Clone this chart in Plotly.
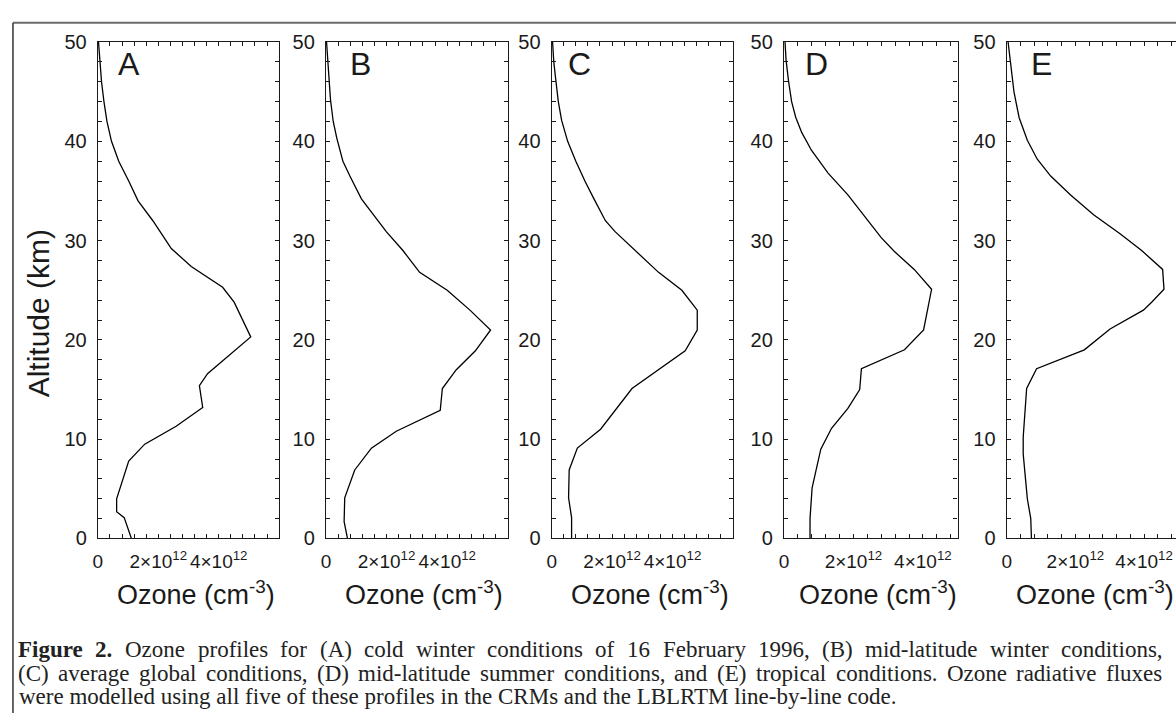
import plotly.graph_objects as go

# ---------------- data (ozone in units of 1e12 cm^-3, altitude in km) ----------------
panel_labels = ["A", "B", "C", "D", "E"]

alt_A = [50, 48, 46, 44, 42, 40, 38, 36, 34, 32, 30, 29.2, 27.4, 25.3, 23.8, 20.3,
         16.6, 15.4, 13.2, 11.3, 9.5, 8.5, 7.8, 4.0, 2.7, 2.1, 0]
oz_A = [0.02, 0.07, 0.12, 0.20, 0.30, 0.45, 0.69, 1.02, 1.33, 1.82, 2.24, 2.43, 3.09,
        4.13, 4.51, 5.06, 3.63, 3.36, 3.47, 2.59, 1.55, 1.22, 1.02, 0.62, 0.62, 0.87, 1.11]

alt_B = [50, 48, 46, 44.2, 42, 40.3, 38, 36.5, 34.2, 30.9, 29, 26.8, 25, 23, 21, 18.9,
         17, 15.1, 12.9, 10.8, 9.1, 6.9, 4.1, 1.7, 0]
oz_B = [0.02, 0.06, 0.10, 0.15, 0.24, 0.36, 0.56, 0.79, 1.17, 1.99, 2.54, 3.09, 4.0,
        4.75, 5.43, 4.93, 4.30, 3.84, 3.77, 2.32, 1.50, 0.95, 0.62, 0.60, 0.71]

alt_C = [50, 48, 46.1, 44, 42.1, 40, 38, 36, 34.2, 32, 30.9, 28.8, 26.8, 25, 23, 21,
         18.9, 15.1, 11, 9.1, 6.9, 4.1, 2.1, 0]
oz_C = [0.03, 0.07, 0.14, 0.22, 0.33, 0.53, 0.80, 1.10, 1.40, 1.78, 2.10, 2.83, 3.54,
        4.31, 4.82, 4.82, 4.42, 2.66, 1.62, 0.85, 0.58, 0.56, 0.66, 0.66]

alt_D = [50, 48.2, 46.1, 44, 42.4, 40.9, 39.1, 36.8, 34.6, 32, 30.3, 28.9, 27.1, 25.1,
         23.8, 21, 19, 17.1, 15, 13.1, 11.1, 9, 5.1, 2, 0]
oz_D = [0.03, 0.06, 0.13, 0.22, 0.34, 0.51, 0.79, 1.27, 1.84, 2.42, 2.80, 3.18, 3.75,
        4.25, 4.18, 4.02, 3.47, 2.23, 2.18, 1.84, 1.37, 1.06, 0.81, 0.75, 0.75]

alt_E = [50, 48.2, 45, 42.4, 40.1, 38.2, 36.5, 34.6, 32.6, 30.7, 29, 27.1, 25.1, 23.8,
         23, 21.1, 19, 17.1, 15.1, 10.2, 8.5, 5.9, 4, 2, 0]
oz_E = [0.04, 0.10, 0.21, 0.36, 0.60, 0.89, 1.28, 1.86, 2.53, 3.30, 3.93, 4.54, 4.58,
        4.22, 3.98, 3.01, 2.26, 0.87, 0.58, 0.48, 0.48, 0.55, 0.60, 0.70, 0.72]

x_tickvals = [0, 2, 4]
x_ticktext = ["0", "2\u00d710<sup>12</sup>", "4\u00d710<sup>12</sup>"]
y_tickvals = [0, 10, 20, 30, 40, 50]

caption_lines = [
    "Figure 2. Ozone profiles for (A) cold winter conditions of 16 February 1996, (B) mid-latitude winter conditions,",
    "(C) average global conditions, (D) mid-latitude summer conditions, and (E) tropical conditions. Ozone radiative fluxes",
    "were modelled using all five of these profiles in the CRMs and the LBLRTM line-by-line code.",
]
caption_bold_words = 2          # "Figure 2." is bold
caption_justified = [True, True, False]

profiles = [(alt_A, oz_A), (alt_B, oz_B), (alt_C, oz_C), (alt_D, oz_D), (alt_E, oz_E)]

# ---------------- layout geometry (pixels) ----------------
W, H = 1176, 724
def px(x):
    return x / W
def py(y):
    return 1 - y / H

panel_px = [(93.3, 275.3), (322.3, 505), (549, 731), (782.3, 956.7), (1006, 1176)]
x_max = [6, 6, 6, 5, 4.93]
letter_x = [125, 357, 577, 815, 1041]
title_x = [192, 421, 648, 877, 1095]
plot_top, plot_bot = 32, 544

SANS = "Liberation Sans, Arial, sans-serif"
SERIF = "Liberation Serif, Times New Roman, serif"
AX = "#1a1a1a"

# Times (Liberation Serif is metric compatible) advance widths, per 1000 em
TIMES = {' ': 250, '(': 333, ')': 333, ',': 250, '.': 250, '-': 333,
         'A': 722, 'B': 667, 'C': 667, 'D': 722, 'E': 611, 'F': 556, 'L': 611,
         'M': 889, 'O': 722, 'R': 667, 'T': 611,
         'a': 444, 'b': 500, 'c': 444, 'd': 500, 'e': 444, 'f': 333, 'g': 500,
         'h': 500, 'i': 278, 'j': 278, 'k': 500, 'l': 278, 'm': 778, 'n': 500,
         'o': 500, 'p': 500, 'q': 500, 'r': 333, 's': 389, 't': 278, 'u': 500,
         'v': 500, 'w': 722, 'x': 500, 'y': 500, 'z': 444}
TIMES_BOLD = {'F': 611, 'i': 278, 'g': 500, 'u': 556, 'r': 444, 'e': 444,
              '.': 250, ' ': 250}

def text_w(s, size, bold=False):
    tot = 0
    for ch in s:
        if ch.isdigit():
            tot += 500
        elif bold and ch in TIMES_BOLD:
            tot += TIMES_BOLD[ch]
        else:
            tot += TIMES.get(ch, 500)
    return tot * size / 1000.0

fig = go.Figure()
layout = dict(
    width=W, height=H, margin=dict(l=0, r=0, t=0, b=0),
    paper_bgcolor="white", plot_bgcolor="white", showlegend=False,
)

annotations = []
for i, (alts, vals) in enumerate(profiles):
    n = "" if i == 0 else str(i + 1)
    fig.add_trace(go.Scatter(
        x=vals, y=alts, mode="lines", line=dict(color="black", width=1.3),
        xaxis="x" + n, yaxis="y" + n, hoverinfo="skip"))
    l, r = panel_px[i]
    layout["xaxis" + n] = dict(
        domain=[px(l), px(r)], range=[0, x_max[i]], anchor="y" + n,
        showline=True, linecolor=AX, linewidth=1.3, mirror="ticks",
        ticks="inside", ticklen=4, tickwidth=1, tickcolor=AX,
        tickmode="array", tickvals=x_tickvals, ticktext=x_ticktext, tickangle=0,
        minor=dict(ticks="inside", ticklen=4, tickwidth=1, tickcolor=AX,
                   tickmode="linear", tick0=0, dtick=0.4, showgrid=False),
        showgrid=False, zeroline=False, ticklabelstandoff=6,
        tickfont=dict(family=SANS, size=19, color=AX), fixedrange=True)
    layout["yaxis" + n] = dict(
        domain=[py(plot_bot), py(plot_top)], range=[0, 50], anchor="x" + n,
        showline=True, linecolor=AX, linewidth=1.3,
        mirror=("ticks" if i < 4 else False),
        ticks="inside", ticklen=4, tickwidth=1, tickcolor=AX,
        tickmode="array", tickvals=y_tickvals,
        minor=dict(ticks="inside", ticklen=4, tickwidth=1, tickcolor=AX,
                   tickmode="linear", tick0=0, dtick=2, showgrid=False),
        showgrid=False, zeroline=False, ticklabelstandoff=6,
        tickfont=dict(family=SANS, size=20, color=AX), fixedrange=True)
    annotations.append(dict(
        text=panel_labels[i], x=px(letter_x[i]), y=py(55), xref="paper", yref="paper",
        xanchor="center", yanchor="middle", showarrow=False,
        font=dict(family=SANS, size=32, color=AX)))
    annotations.append(dict(
        text="Ozone (cm<sup>-3</sup>)", x=px(title_x[i]), y=py(600),
        xref="paper", yref="paper", xanchor="center", yanchor="middle",
        showarrow=False, font=dict(family=SANS, size=27, color=AX)))

annotations.append(dict(
    text="Altitude (km)", x=px(34), y=py(312), xref="paper", yref="paper",
    xanchor="center", yanchor="middle", textangle=-90, showarrow=False,
    font=dict(family=SANS, size=30, color=AX)))

# caption, lines 1-2 justified word by word
CAP_SIZE = 23
CAP_FONT = dict(family=SERIF, size=CAP_SIZE, color="#222")
cap_left, cap_right = 12, 1161
cap_y = [659, 683.5, 707]
for li, (line, yy) in enumerate(zip(caption_lines, cap_y)):
    if not caption_justified[li]:
        annotations.append(dict(text=line, x=px(cap_left), y=py(yy), xref="paper",
                                yref="paper", xanchor="left", yanchor="middle",
                                showarrow=False, font=CAP_FONT))
        continue
    words = line.split(" ")
    bold = [li == 0 and k < caption_bold_words for k in range(len(words))]
    widths = [text_w(w, CAP_SIZE, b) for w, b in zip(words, bold)]
    gap = (cap_right - cap_left - sum(widths)) / (len(words) - 1)
    xpos = cap_left
    for w, wd, b in zip(words, widths, bold):
        annotations.append(dict(text=("<b>%s</b>" % w) if b else w, x=px(xpos), y=py(yy),
                                xref="paper", yref="paper", xanchor="left",
                                yanchor="middle", showarrow=False, borderpad=0,
                                font=CAP_FONT))
        xpos += wd + gap

layout["annotations"] = annotations
layout["shapes"] = [
    dict(type="line", xref="paper", yref="paper", x0=px(8), x1=1, y0=py(12), y1=py(12),
         line=dict(color="#6a6a6a", width=2)),
    dict(type="line", xref="paper", yref="paper", x0=px(8), x1=px(8), y0=py(12), y1=0,
         line=dict(color="#333333", width=1.5)),
]
fig.update_layout(**layout)
fig.write_html("out.html")
